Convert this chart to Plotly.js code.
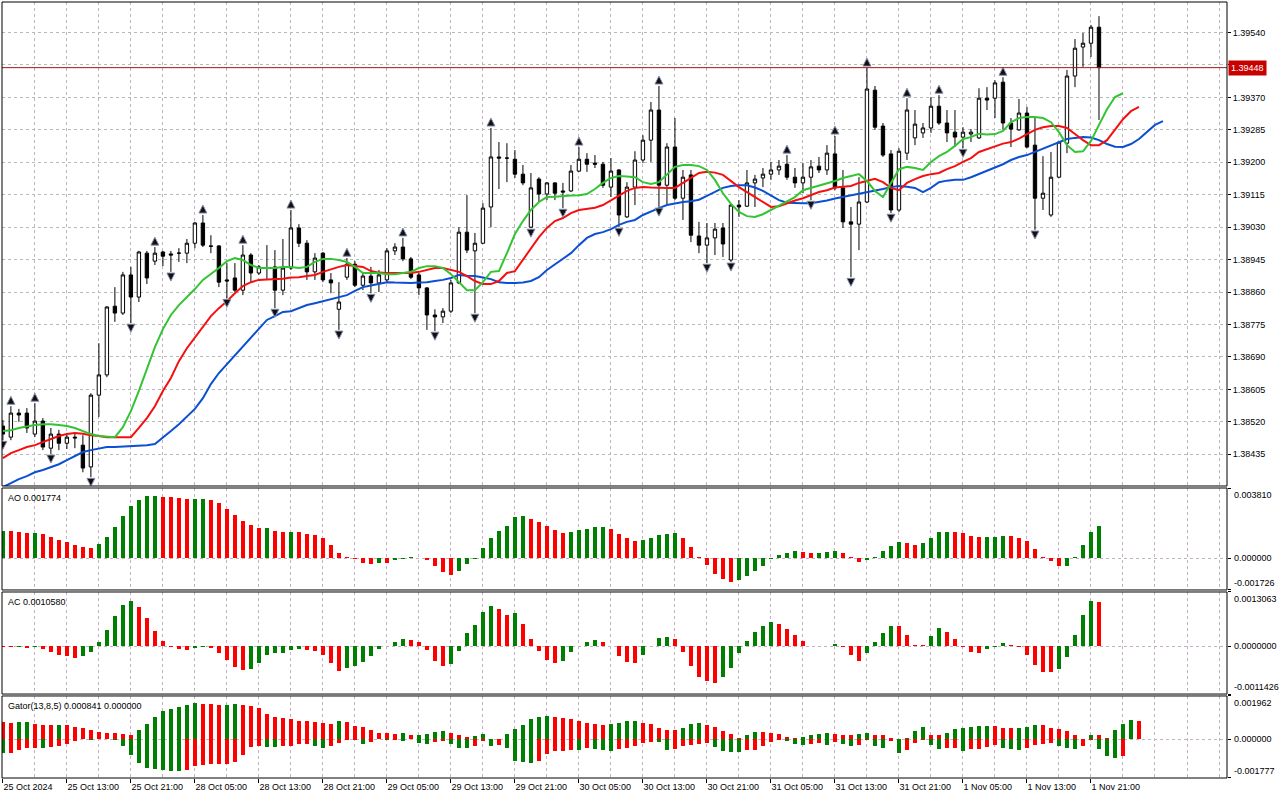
<!DOCTYPE html>
<html><head><meta charset="utf-8">
<script src="https://cdn.plot.ly/plotly-3.0.1.min.js"></script>
<style>html,body{margin:0;padding:0;background:#fff}#chart{width:1280px;height:800px}</style>
</head><body><div id="chart"></div>
<script>
// ---- data (H1 bars) ----
const timeLabels = ["25 Oct 2024","25 Oct 13:00","25 Oct 21:00","28 Oct 05:00","28 Oct 13:00","28 Oct 21:00","29 Oct 05:00","29 Oct 13:00","29 Oct 21:00","30 Oct 05:00","30 Oct 13:00","30 Oct 21:00","31 Oct 05:00","31 Oct 13:00","31 Oct 21:00","1 Nov 05:00","1 Nov 13:00","1 Nov 21:00"];
const labelIdx = [0,8,16,24,32,40,48,56,64,72,80,88,96,104,112,120,128,136];
const priceTicks = [1.39540,1.39455,1.39370,1.39285,1.39200,1.39115,1.39030,1.38945,1.38860,1.38775,1.38690,1.38605,1.38520,1.38435];

const openP = [1.38509,1.38480,1.38543,1.38543,1.38488,1.38522,1.38451,1.38488,1.38464,1.38480,
1.38459,1.38402,1.38590,1.38643,1.38823,1.38805,1.38905,1.38847,1.38962,1.38941,
1.38965,1.38960,1.38962,1.38962,1.38988,1.39041,1.38981,1.38981,1.38892,1.38897,
1.38865,1.38957,1.38910,1.38923,1.38926,1.38865,1.38923,1.39028,1.38988,1.38913,
1.38962,1.38892,1.38815,1.38899,1.38933,1.38878,1.38902,1.38884,1.38892,1.38968,
1.38978,1.38947,1.38905,1.38871,1.38800,1.38795,1.38810,1.38884,1.39017,1.38968,
1.38988,1.39083,1.39214,1.39211,1.39208,1.39169,1.39030,1.39156,1.39117,1.39146,
1.39125,1.39125,1.39177,1.39208,1.39198,1.39195,1.39135,1.39180,1.39057,1.39135,
1.39206,1.39258,1.39337,1.39140,1.39240,1.39106,1.39167,1.39007,1.38983,1.39002,
1.39028,1.38944,1.39088,1.39085,1.39146,1.39159,1.39169,1.39180,1.39195,1.39161,
1.39146,1.39161,1.39190,1.39180,1.39222,1.39133,1.39044,1.39038,1.39096,1.39389,
1.39295,1.39222,1.39075,1.39224,1.39264,1.39277,1.39290,1.39347,1.39303,1.39279,
1.39266,1.39274,1.39264,1.39368,1.39368,1.39410,1.39303,1.39285,1.39329,1.39245,
1.39106,1.39062,1.39161,1.39250,1.39426,1.39502,1.39512,1.39554];
const highP = [1.38525,1.38561,1.38554,1.38556,1.38569,1.38530,1.38504,1.38499,1.38491,1.38488,
1.38485,1.38595,1.38726,1.38823,1.38873,1.38913,1.38926,1.38968,1.38968,1.38978,
1.38968,1.38968,1.38975,1.38999,1.39044,1.39062,1.39009,1.38983,1.38936,1.38936,
1.38983,1.38962,1.38931,1.38983,1.38970,1.38999,1.39075,1.39038,1.38996,1.38962,
1.38965,1.38910,1.38886,1.38949,1.38941,1.38913,1.38926,1.38918,1.38975,1.38988,
1.39002,1.38952,1.38910,1.38873,1.38815,1.38818,1.38892,1.39030,1.39114,1.39015,
1.39093,1.39290,1.39253,1.39250,1.39232,1.39193,1.39172,1.39161,1.39148,1.39148,
1.39146,1.39193,1.39240,1.39224,1.39219,1.39201,1.39211,1.39182,1.39148,1.39229,
1.39271,1.39358,1.39400,1.39250,1.39316,1.39180,1.39180,1.39044,1.39041,1.39041,
1.39041,1.39091,1.39101,1.39180,1.39167,1.39185,1.39201,1.39206,1.39219,1.39185,
1.39198,1.39206,1.39214,1.39245,1.39269,1.39180,1.39083,1.39161,1.39447,1.39400,
1.39303,1.39232,1.39237,1.39368,1.39337,1.39303,1.39371,1.39376,1.39337,1.39337,
1.39292,1.39287,1.39394,1.39397,1.39415,1.39423,1.39316,1.39366,1.39345,1.39319,
1.39216,1.39227,1.39253,1.39442,1.39523,1.39539,1.39560,1.39583];
const lowP = [1.38472,1.38472,1.38520,1.38491,1.38480,1.38446,1.38436,1.38446,1.38449,1.38451,
1.38388,1.38375,1.38533,1.38637,1.38782,1.38800,1.38779,1.38834,1.38881,1.38931,
1.38928,1.38913,1.38939,1.38936,1.38975,1.38978,1.38962,1.38873,1.38844,1.38860,
1.38852,1.38886,1.38905,1.38892,1.38818,1.38852,1.38918,1.38978,1.38892,1.38892,
1.38886,1.38857,1.38761,1.38892,1.38873,1.38865,1.38857,1.38860,1.38886,1.38957,
1.38941,1.38894,1.38852,1.38761,1.38758,1.38779,1.38805,1.38881,1.38962,1.38805,
1.38986,1.39030,1.39130,1.39148,1.39159,1.39140,1.39028,1.39096,1.39101,1.39101,
1.39080,1.39122,1.39175,1.39175,1.39185,1.39133,1.39109,1.39030,1.39054,1.39088,
1.39198,1.39201,1.39083,1.39088,1.39101,1.39049,1.38991,1.38962,1.38936,1.38957,
1.38952,1.38939,1.39057,1.39083,1.39083,1.39135,1.39154,1.39167,1.39154,1.39133,
1.39119,1.39101,1.39172,1.39167,1.39127,1.39028,1.38899,1.38970,1.39093,1.39285,
1.39214,1.39067,1.39070,1.39206,1.39245,1.39264,1.39277,1.39298,1.39253,1.39240,
1.39237,1.39253,1.39261,1.39337,1.39316,1.39285,1.39240,1.39282,1.39237,1.39023,
1.39075,1.39057,1.39159,1.39224,1.39397,1.39450,1.39476,1.39311];
const closeP = [1.38488,1.38543,1.38538,1.38504,1.38522,1.38454,1.38488,1.38464,1.38480,1.38478,
1.38399,1.38590,1.38643,1.38821,1.38805,1.38905,1.38847,1.38965,1.38897,1.38962,
1.38954,1.38957,1.38962,1.38988,1.39041,1.38983,1.38980,1.38886,1.38889,1.38865,
1.38957,1.38910,1.38926,1.38923,1.38865,1.38923,1.39028,1.38988,1.38913,1.38949,
1.38892,1.38884,1.38834,1.38933,1.38878,1.38902,1.38884,1.38905,1.38968,1.38978,
1.38947,1.38899,1.38871,1.38800,1.38795,1.38810,1.38884,1.39017,1.38970,1.38988,
1.39080,1.39214,1.39211,1.39211,1.39169,1.39146,1.39133,1.39117,1.39146,1.39119,
1.39122,1.39177,1.39208,1.39195,1.39195,1.39140,1.39177,1.39062,1.39135,1.39206,
1.39258,1.39337,1.39140,1.39240,1.39106,1.39161,1.39009,1.38983,1.39002,1.39025,
1.38986,1.39088,1.39083,1.39146,1.39156,1.39169,1.39180,1.39190,1.39161,1.39146,
1.39161,1.39188,1.39180,1.39224,1.39133,1.39044,1.39038,1.39096,1.39392,1.39292,
1.39219,1.39075,1.39229,1.39337,1.39300,1.39290,1.39347,1.39303,1.39277,1.39266,
1.39279,1.39279,1.39368,1.39363,1.39408,1.39303,1.39287,1.39329,1.39240,1.39106,
1.39119,1.39161,1.39253,1.39426,1.39499,1.39512,1.39554,1.39448];

// Alligator lines as displayed (already shifted forward)
const lipsLine = [1.38496,1.38498,1.38504,1.38509,1.38512,1.38514,1.38514,1.38512,1.38509,1.38504,
1.38496,1.38488,1.38483,1.38481,1.38480,1.38506,1.38548,1.38601,1.38658,1.38716,
1.38763,1.38800,1.38826,1.38847,1.38868,1.38892,1.38907,1.38923,1.38941,1.38949,
1.38944,1.38931,1.38923,1.38923,1.38923,1.38926,1.38926,1.38923,1.38926,1.38939,
1.38947,1.38947,1.38944,1.38939,1.38926,1.38910,1.38910,1.38910,1.38907,1.38907,
1.38910,1.38913,1.38923,1.38928,1.38928,1.38923,1.38907,1.38886,1.38865,1.38865,
1.38886,1.38913,1.38915,1.38962,1.39012,1.39046,1.39075,1.39096,1.39109,1.39110,
1.39112,1.39113,1.39114,1.39117,1.39130,1.39146,1.39159,1.39164,1.39163,1.39161,
1.39148,1.39143,1.39148,1.39169,1.39188,1.39193,1.39193,1.39190,1.39180,1.39154,
1.39119,1.39091,1.39070,1.39059,1.39057,1.39064,1.39075,1.39085,1.39096,1.39109,
1.39127,1.39133,1.39138,1.39143,1.39151,1.39159,1.39164,1.39169,1.39151,1.39125,
1.39109,1.39146,1.39182,1.39188,1.39185,1.39180,1.39201,1.39216,1.39227,1.39243,
1.39261,1.39266,1.39275,1.39273,1.39274,1.39282,1.39305,1.39316,1.39319,1.39319,
1.39316,1.39305,1.39279,1.39245,1.39227,1.39229,1.39256,1.39298,1.39339,1.39371,
1.39381];
const teethLine = [1.38425,1.38438,1.38446,1.38454,1.38459,1.38467,1.38475,1.38483,1.38488,1.38491,
1.38489,1.38485,1.38483,1.38480,1.38480,1.38480,1.38480,1.38504,1.38530,1.38561,
1.38601,1.38635,1.38679,1.38713,1.38742,1.38768,1.38797,1.38818,1.38836,1.38857,
1.38876,1.38886,1.38892,1.38893,1.38894,1.38895,1.38898,1.38899,1.38902,1.38905,
1.38913,1.38920,1.38926,1.38931,1.38929,1.38926,1.38915,1.38911,1.38910,1.38910,
1.38910,1.38910,1.38913,1.38918,1.38923,1.38923,1.38919,1.38913,1.38902,1.38889,
1.38881,1.38881,1.38889,1.38910,1.38915,1.38944,1.38975,1.39004,1.39028,1.39046,
1.39054,1.39067,1.39075,1.39078,1.39081,1.39088,1.39101,1.39112,1.39125,1.39133,
1.39135,1.39134,1.39133,1.39133,1.39133,1.39146,1.39161,1.39172,1.39175,1.39173,
1.39167,1.39151,1.39135,1.39122,1.39109,1.39096,1.39083,1.39085,1.39093,1.39100,
1.39106,1.39114,1.39122,1.39127,1.39134,1.39136,1.39138,1.39146,1.39151,1.39157,
1.39148,1.39133,1.39127,1.39146,1.39156,1.39164,1.39169,1.39172,1.39182,1.39190,
1.39201,1.39211,1.39227,1.39235,1.39243,1.39249,1.39253,1.39262,1.39274,1.39285,
1.39292,1.39295,1.39295,1.39290,1.39274,1.39258,1.39245,1.39245,1.39258,1.39287,
1.39313,1.39334,1.39345];
const jawLine = [1.38349,1.38360,1.38370,1.38378,1.38388,1.38394,1.38402,1.38409,1.38420,1.38430,
1.38441,1.38446,1.38451,1.38454,1.38454,1.38455,1.38457,1.38458,1.38459,1.38462,
1.38478,1.38496,1.38514,1.38533,1.38554,1.38582,1.38619,1.38648,1.38671,1.38695,
1.38719,1.38742,1.38763,1.38787,1.38797,1.38808,1.38810,1.38818,1.38826,1.38831,
1.38836,1.38842,1.38847,1.38852,1.38863,1.38873,1.38877,1.38881,1.38886,1.38885,
1.38884,1.38884,1.38885,1.38886,1.38889,1.38892,1.38897,1.38905,1.38903,1.38902,
1.38898,1.38894,1.38886,1.38884,1.38884,1.38885,1.38889,1.38899,1.38918,1.38933,
1.38949,1.38962,1.38983,1.39002,1.39012,1.39017,1.39025,1.39036,1.39044,1.39049,
1.39062,1.39072,1.39080,1.39088,1.39093,1.39096,1.39098,1.39102,1.39112,1.39122,
1.39133,1.39138,1.39140,1.39140,1.39134,1.39125,1.39113,1.39101,1.39094,1.39093,
1.39093,1.39093,1.39096,1.39100,1.39105,1.39109,1.39114,1.39118,1.39122,1.39126,
1.39130,1.39135,1.39138,1.39136,1.39133,1.39122,1.39133,1.39148,1.39152,1.39154,
1.39154,1.39161,1.39169,1.39177,1.39185,1.39195,1.39206,1.39214,1.39219,1.39227,
1.39235,1.39245,1.39253,1.39261,1.39264,1.39266,1.39265,1.39258,1.39248,1.39241,
1.39240,1.39248,1.39261,1.39279,1.39298,1.39308];

const fractalUp = [1,4,19,25,30,36,43,50,61,72,82,98,104,108,113,117,125];
const fractalDown = [0,6,11,16,21,28,34,42,46,54,59,66,70,77,82,88,91,101,106,111,120,129];

const aoValues = [0.001461,0.001455,0.001406,0.001345,0.001352,0.001297,0.001132,0.000968,0.000859,0.000694,
0.000585,0.000548,0.000749,0.001132,0.001680,0.002283,0.002831,0.003160,0.003380,0.003390,
0.003325,0.003316,0.003269,0.003215,0.003224,0.003233,0.003160,0.002994,0.002667,0.002338,
0.002028,0.001808,0.001626,0.001635,0.001480,0.001406,0.001415,0.001397,0.001297,0.001242,
0.001078,0.000694,0.000256,0.000091,-0.000037,-0.000237,-0.000292,-0.000237,-0.000255,-0.000110,
-0.000030,0.000040,0.000030,-0.000110,-0.000438,-0.000767,-0.000895,-0.000712,-0.000292,-0.000020,
0.000530,0.001096,0.001461,0.001754,0.002228,0.002283,0.002137,0.001973,0.001754,0.001534,
0.001370,0.001406,0.001534,0.001589,0.001680,0.001690,0.001589,0.001297,0.001096,0.000913,
0.000968,0.001078,0.001242,0.001297,0.001352,0.001078,0.000585,0.000091,-0.000347,-0.000840,
-0.001114,-0.001279,-0.001169,-0.000950,-0.000676,-0.000402,-0.000018,0.000146,0.000256,0.000365,
0.000311,0.000256,0.000265,0.000311,0.000365,0.000256,0.000037,-0.000219,-0.000110,0.000091,
0.000365,0.000639,0.000859,0.000804,0.000694,0.000804,0.001096,0.001406,0.001415,0.001397,
0.001352,0.001187,0.001132,0.001140,0.001150,0.001187,0.001180,0.001078,0.000913,0.000475,
0.000091,-0.000164,-0.000438,-0.000402,0.000091,0.000694,0.001406,0.001774];
const acValues = [-0.000014,-0.000024,-0.000019,-0.000040,-0.000024,-0.000055,-0.000126,-0.000213,-0.000237,-0.000268,
-0.000237,-0.000142,0.000095,0.000395,0.000726,0.000987,0.001081,0.000947,0.000679,0.000371,
0.000134,-0.000008,-0.000055,-0.000079,-0.000031,-0.000005,-0.000031,-0.000150,-0.000331,-0.000497,
-0.000568,-0.000552,-0.000402,-0.000197,-0.000166,-0.000150,-0.000079,-0.000055,-0.000095,-0.000102,
-0.000197,-0.000386,-0.000592,-0.000528,-0.000481,-0.000363,-0.000221,-0.000055,0.000016,0.000111,
0.000182,0.000158,0.000111,-0.000079,-0.000339,-0.000481,-0.000410,-0.000102,0.000324,0.000513,
0.000821,0.000963,0.000892,0.000750,0.000797,0.000545,0.000182,-0.000102,-0.000315,-0.000386,
-0.000339,-0.000142,0.000008,0.000111,0.000158,0.000111,0.000005,-0.000221,-0.000363,-0.000386,
-0.000197,0.000005,0.000213,0.000229,0.000182,-0.000126,-0.000473,-0.000734,-0.000829,-0.000876,
-0.000734,-0.000528,-0.000166,0.000134,0.000348,0.000490,0.000584,0.000537,0.000419,0.000276,
0.000134,0.000008,0.000005,0.000002,0.000063,-0.000008,-0.000197,-0.000339,-0.000150,0.000111,
0.000324,0.000490,0.000483,0.000276,0.000040,0.000033,0.000253,0.000442,0.000348,0.000182,
-0.000008,-0.000142,-0.000166,-0.000071,-0.000004,0.000087,0.000040,-0.000024,-0.000197,-0.000434,
-0.000616,-0.000620,-0.000552,-0.000260,0.000276,0.000750,0.001082,0.001058];
const gatorUp = [0.000758,0.000744,0.000758,0.000766,0.000699,0.000625,0.000617,0.000625,0.000617,0.000565,
0.000491,0.000401,0.000312,0.000268,0.000260,0.000208,0.000201,0.000416,0.000669,0.001026,
0.001294,0.001383,0.001472,0.001561,0.001636,0.001606,0.001591,0.001561,0.001569,0.001576,
0.001561,0.001517,0.001398,0.001160,0.000981,0.000952,0.000892,0.000833,0.000825,0.000758,
0.000714,0.000706,0.000803,0.000758,0.000610,0.000535,0.000401,0.000268,0.000260,0.000223,
0.000268,0.000164,0.000193,0.000238,0.000327,0.000357,0.000297,0.000178,0.000089,0.000119,
0.000208,0.000015,0.000005,0.000208,0.000446,0.000625,0.000907,0.001026,0.001071,0.000981,
0.000937,0.000892,0.000803,0.000714,0.000706,0.000654,0.000669,0.000714,0.000803,0.000810,
0.000744,0.000669,0.000491,0.000401,0.000394,0.000491,0.000669,0.000714,0.000625,0.000535,
0.000357,0.000223,0.000030,0.000178,0.000312,0.000305,0.000297,0.000223,0.000089,0.000045,
0.000074,0.000178,0.000223,0.000268,0.000223,0.000193,0.000186,0.000223,0.000268,0.000178,
0.000171,0.000045,0.000000,0.000030,0.000357,0.000535,0.000178,0.000171,0.000268,0.000446,
0.000491,0.000535,0.000580,0.000587,0.000580,0.000491,0.000483,0.000520,0.000535,0.000625,
0.000617,0.000491,0.000446,0.000357,0.000178,0.000010,0.000178,0.000171,0.000045,0.000430,
0.000669,0.000848,0.000841];
const gatorDown = [-0.000654,-0.000625,-0.000506,-0.000401,-0.000387,-0.000431,-0.000372,-0.000327,-0.000223,-0.000074,
-0.000007,-0.000030,-0.000015,-0.000015,-0.000045,-0.000297,-0.000744,-0.001100,-0.001323,-0.001368,
-0.001398,-0.001442,-0.001457,-0.001413,-0.001249,-0.001190,-0.001145,-0.001138,-0.001130,-0.001026,
-0.000744,-0.000357,-0.000327,-0.000357,-0.000364,-0.000327,-0.000297,-0.000208,-0.000208,-0.000297,
-0.000387,-0.000327,-0.000178,-0.000045,-0.000030,-0.000208,-0.000119,-0.000015,-0.000045,-0.000030,
-0.000074,-0.000007,-0.000178,-0.000208,-0.000149,-0.000104,-0.000208,-0.000387,-0.000416,-0.000297,
-0.000074,-0.000327,-0.000253,-0.000387,-0.001011,-0.001041,-0.001071,-0.000996,-0.000699,-0.000550,
-0.000543,-0.000506,-0.000520,-0.000401,-0.000476,-0.000506,-0.000565,-0.000476,-0.000401,-0.000297,
-0.000178,-0.000134,-0.000141,-0.000506,-0.000476,-0.000327,-0.000268,-0.000208,-0.000201,-0.000357,
-0.000565,-0.000572,-0.000580,-0.000520,-0.000506,-0.000327,-0.000119,-0.000030,-0.000074,-0.000208,
-0.000268,-0.000208,-0.000178,-0.000268,-0.000149,-0.000208,-0.000297,-0.000290,-0.000045,-0.000297,
-0.000387,-0.000074,-0.000625,-0.000520,-0.000178,-0.000030,-0.000253,-0.000476,-0.000431,-0.000401,
-0.000565,-0.000476,-0.000468,-0.000357,-0.000253,-0.000394,-0.000476,-0.000520,-0.000431,-0.000253,
-0.000208,-0.000178,-0.000297,-0.000387,-0.000476,-0.000327,-0.000030,-0.000476,-0.000773,-0.000877,
-0.000773];

// window scales shown on the right of the sub-windows
const aoScale = [-0.001726, 0.003810];
const acScale = [-0.0011426, 0.0013063];
const gatorScale = [-0.001777, 0.001962];

// ---- build ----
const FONT = '"Liberation Sans", Arial, sans-serif';
const GREEN = '#008000', RED = '#ff0000';
const GRIDX = '#c4b2c4', GRIDY = '#b3bdb3';
const idx = a => a.map((_, i) => i);
const n = closeP.length;

function riseColors(vals, first, useAbs) {
  return vals.map((v, i) => {
    if (i === 0) return first;
    const a = useAbs ? Math.abs(v) : v, b = useAbs ? Math.abs(vals[i-1]) : vals[i-1];
    return a > b ? GREEN : RED;
  });
}

const upOff = 0.00026, dnOff = 0.00024;
const traces = [
  {type:'candlestick', x:idx(closeP), open:openP, high:highP, low:lowP, close:closeP,
   increasing:{line:{color:'#000', width:1}, fillcolor:'#ffffff'},
   decreasing:{line:{color:'#000', width:1}, fillcolor:'#000000'},
   whiskerwidth:0, hoverinfo:'skip', xaxis:'x', yaxis:'y'},
  {type:'scatter', mode:'lines', x:idx(jawLine), y:jawLine, line:{color:'#0b4fd3', width:2}, xaxis:'x', yaxis:'y', hoverinfo:'skip'},
  {type:'scatter', mode:'lines', x:idx(teethLine), y:teethLine, line:{color:'#f41010', width:2}, xaxis:'x', yaxis:'y', hoverinfo:'skip'},
  {type:'scatter', mode:'lines', x:idx(lipsLine), y:lipsLine, line:{color:'#33c433', width:2}, xaxis:'x', yaxis:'y', hoverinfo:'skip'},
  {type:'scatter', mode:'markers', x:fractalUp, y:fractalUp.map(i => highP[i] + upOff),
   marker:{symbol:'arrow-up', size:8, color:'#111', line:{color:'#8890b0', width:1}}, xaxis:'x', yaxis:'y', hoverinfo:'skip', cliponaxis:true},
  {type:'scatter', mode:'markers', x:fractalDown, y:fractalDown.map(i => lowP[i] - dnOff),
   marker:{symbol:'arrow-down', size:8, color:'#111', line:{color:'#8890b0', width:1}}, xaxis:'x', yaxis:'y', hoverinfo:'skip', cliponaxis:true},
  {type:'bar', x:idx(aoValues), y:aoValues, width:0.55, marker:{color:riseColors(aoValues, GREEN, false)}, xaxis:'x', yaxis:'y2', hoverinfo:'skip'},
  {type:'bar', x:idx(acValues), y:acValues, width:0.55, marker:{color:riseColors(acValues, RED, false)}, xaxis:'x', yaxis:'y3', hoverinfo:'skip'},
  {type:'bar', x:idx(gatorUp), y:gatorUp, width:0.55, marker:{color:riseColors(gatorUp, RED, true)}, xaxis:'x', yaxis:'y4', hoverinfo:'skip'},
  {type:'bar', x:idx(gatorDown), y:gatorDown, width:0.55, marker:{color:riseColors(gatorDown, GREEN, true)}, xaxis:'x', yaxis:'y4', hoverinfo:'skip'}
];

const gridStep = 4, gridEnd = 152;
const minorIdx = [];
for (let k = 0; k <= gridEnd; k += gridStep) if (!labelIdx.includes(k)) minorIdx.push(k);

function subAxis(domain, range) {
  return {domain:domain, range:range, anchor:'x', side:'right', tickmode:'array', tickvals:[range[0],0,range[1]],
    showticklabels:false, ticks:'outside', ticklen:3, tickcolor:'#000',
    showgrid:true, gridcolor:GRIDX, griddash:'3px,3px', gridwidth:1, zeroline:false, showline:false, fixedrange:true};
}

const lastPrice = closeP[n-1];
const tf = {family:FONT, size:9, color:'#000'};
function scaleNotes(yref, range, dec) {
  return [
    {xref:'paper', x:1, xanchor:'left', xshift:5, yref:yref, y:range[1], yanchor:'top', text:range[1].toFixed(dec), showarrow:false, font:tf},
    {xref:'paper', x:1, xanchor:'left', xshift:5, yref:yref, y:0, yanchor:'middle', text:(0).toFixed(dec), showarrow:false, font:tf},
    {xref:'paper', x:1, xanchor:'left', xshift:5, yref:yref, y:range[0], yanchor:'bottom', text:range[0].toFixed(dec), showarrow:false, font:tf}
  ];
}
const lastDown = gatorDown.length < gatorUp.length ? 0 : gatorDown[gatorDown.length-1];
const annotations = [
  {xref:'paper', x:0, xanchor:'left', xshift:4, yref:'y2 domain', y:1, yanchor:'top', yshift:-3, text:'AO ' + aoValues[n-1].toFixed(6), showarrow:false, font:tf},
  {xref:'paper', x:0, xanchor:'left', xshift:4, yref:'y3 domain', y:1, yanchor:'top', yshift:-3, text:'AC ' + acValues[n-1].toFixed(7), showarrow:false, font:tf},
  {xref:'paper', x:0, xanchor:'left', xshift:4, yref:'y4 domain', y:1, yanchor:'top', yshift:-3, text:'Gator(13,8,5) ' + gatorUp[gatorUp.length-1].toFixed(6) + ' ' + Math.abs(lastDown).toFixed(6), showarrow:false, font:tf},
  ...scaleNotes('y2', aoScale, 6),
  ...scaleNotes('y3', acScale, 7),
  ...scaleNotes('y4', gatorScale, 6),
  {xref:'paper', x:1, xanchor:'left', xshift:1, yref:'y', y:lastPrice, yanchor:'middle', text:lastPrice.toFixed(5), showarrow:false,
   font:{family:FONT, size:9, color:'#fff'}, bgcolor:'#c80000', borderpad:2}
];

const box = yr => ({type:'rect', xref:'paper', x0:0, x1:1, yref:yr, y0:0, y1:1, line:{color:'#000', width:1}, fillcolor:'rgba(0,0,0,0)'});
const shapes = [
  {type:'line', xref:'paper', x0:0, x1:1, yref:'y', y0:lastPrice, y1:lastPrice, line:{color:'#a01818', width:1}},
  box('y domain'), box('y2 domain'), box('y3 domain'), box('y4 domain')
];

// price labels hidden where the current-price tag sits
const priceText = priceTicks.map(v => Math.abs(v - lastPrice) < 0.0002 ? '' : v.toFixed(5));

const layout = {
  width:1280, height:800,
  margin:{l:2, r:53, t:2, b:22, pad:0},
  paper_bgcolor:'#ffffff', plot_bgcolor:'#ffffff',
  showlegend:false, barmode:'overlay', bargap:0, boxgap:0.4,
  font:tf,
  xaxis:{range:[-0.11, 153], anchor:'y4', tickmode:'array', tickvals:labelIdx, ticktext:timeLabels,
    ticks:'outside', ticklen:4, tickcolor:'#000', ticklabelposition:'outside right',
    showgrid:true, gridcolor:GRIDX, griddash:'3px,3px', gridwidth:1,
    minor:{tickmode:'array', tickvals:minorIdx, showgrid:true, gridcolor:GRIDX, griddash:'3px,3px', gridwidth:1, ticks:''},
    zeroline:false, showline:false, rangeslider:{visible:false}, fixedrange:true, tickfont:tf},
  yaxis:{domain:[0.3763, 1], range:[1.38352, 1.39620], anchor:'x', side:'right', tickmode:'array',
    tickvals:priceTicks, ticktext:priceText, ticks:'outside', ticklen:3, tickcolor:'#000',
    showgrid:true, gridcolor:GRIDY, griddash:'3px,3px', gridwidth:1, zeroline:false, showline:false, fixedrange:true, tickfont:tf},
  yaxis2:subAxis([0.2423, 0.3737], aoScale),
  yaxis3:subAxis([0.1082, 0.2397], acScale),
  yaxis4:subAxis([0, 0.1057], gatorScale),
  annotations:annotations,
  shapes:shapes
};

Plotly.newPlot('chart', traces, layout, {displayModeBar:false, staticPlot:true});
</script>
</body></html>
